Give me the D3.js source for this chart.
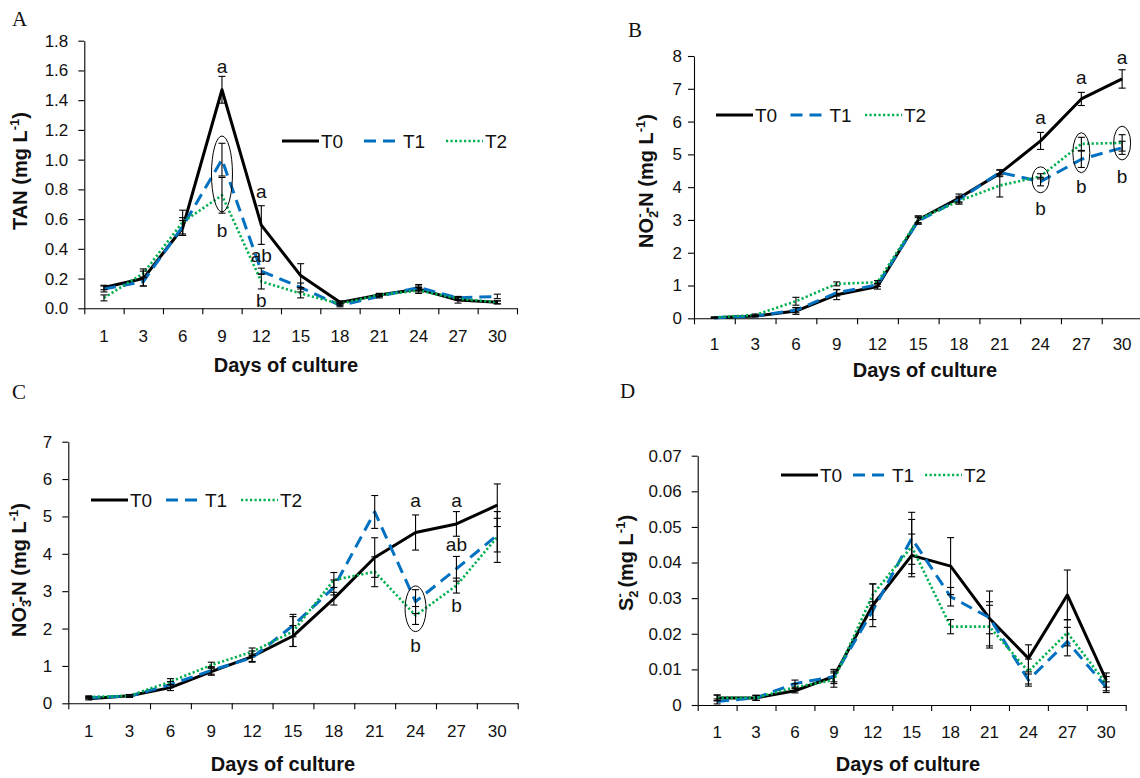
<!DOCTYPE html>
<html>
<head>
<meta charset="utf-8">
<script src="https://cdn.jsdelivr.net/npm/d3@7"></script>
<style>
  body { margin: 0; background: #fff; }
  svg text { font-family: "Liberation Sans", Arial, sans-serif; fill: #111; }
</style>
</head>
<body>
<svg id="fig" width="1140" height="778"></svg>
<script>
// shared x categories
const days = ["1", "3", "6", "9", "12", "15", "18", "21", "24", "27", "30"];
const treatments = ["T0", "T1", "T2"];

// A - TAN
const tanTicks = [0, 0.2, 0.4, 0.6, 0.8, 1.0, 1.2, 1.4, 1.6, 1.8];
const tanT0 = [0.14, 0.20, 0.54, 1.47, 0.56, 0.22, 0.04, 0.09, 0.13, 0.055, 0.04];
const tanT1 = [0.13, 0.18, 0.55, 1.00, 0.25, 0.14, 0.02, 0.08, 0.14, 0.07, 0.08];
const tanT2 = [0.07, 0.235, 0.58, 0.76, 0.18, 0.10, 0.03, 0.09, 0.12, 0.065, 0.04];
const tanErrT0 = [0.015, 0.05, 0.05, 0.09, 0.13, 0.08, 0.01, 0.01, 0.02, 0.02, 0.01];
const tanErrT1 = [0.02, 0.03, 0.06, 0.11, 0.02, 0.03, 0.01, 0.01, 0.02, 0.01, 0.015];
const tanErrT2 = [0.02, 0.03, 0.08, 0.12, 0.05, 0.03, 0.01, 0.01, 0.02, 0.01, 0.01];
const tanLetters = [["9", 1.58, "a"], ["9", 0.48, "b"], ["12", 0.745, "a"], ["12", 0.314, "ab"], ["12", 0.007, "b"]];
const tanCircles = [["9", 0.648, 1.159]];

// B - NO2-N
const nitriteTicks = [0, 1, 2, 3, 4, 5, 6, 7, 8];
const nitriteT0 = [0.02, 0.07, 0.22, 0.72, 0.97, 3.00, 3.67, 4.42, 5.41, 6.69, 7.30];
const nitriteT1 = [0.02, 0.07, 0.25, 0.78, 1.02, 2.97, 3.62, 4.45, 4.17, 4.85, 5.20];
const nitriteT2 = [0.03, 0.10, 0.52, 1.05, 1.10, 3.02, 3.58, 4.05, 4.33, 5.32, 5.35];
const nitriteErrT0 = [0.01, 0.02, 0.10, 0.15, 0.08, 0.12, 0.12, 0.10, 0.26, 0.20, 0.28];
const nitriteErrT1 = [0.01, 0.02, 0.08, 0.10, 0.05, 0.10, 0.10, 0.08, 0.13, 0.25, 0.20];
const nitriteErrT2 = [0.01, 0.03, 0.12, 0.06, 0.05, 0.10, 0.10, 0.35, 0.08, 0.20, 0.25];
const nitriteLetters = [["24", 5.92, "a"], ["27", 7.16, "a"], ["30", 7.77, "a"], ["24", 3.15, "b"], ["27", 3.83, "b"], ["30", 4.14, "b"]];
const nitriteCircles = [["24", 3.83, 4.62], ["27", 4.44, 5.66], ["30", 4.83, 5.86]];

// C - NO3-N
const nitrateTicks = [0, 1, 2, 3, 4, 5, 6, 7];
const nitrateT0 = [0.12, 0.20, 0.42, 0.85, 1.25, 1.80, 2.80, 3.90, 4.57, 4.80, 5.30];
const nitrateT1 = [0.15, 0.19, 0.50, 0.88, 1.22, 2.08, 3.10, 5.12, 2.72, 3.60, 4.50];
const nitrateT2 = [0.17, 0.20, 0.58, 1.02, 1.38, 1.92, 3.30, 3.52, 2.35, 3.15, 4.45];
const nitrateErrT0 = [0.03, 0.03, 0.08, 0.10, 0.15, 0.28, 0.17, 0.53, 0.47, 0.33, 0.57];
const nitrateErrT1 = [0.03, 0.03, 0.08, 0.10, 0.10, 0.30, 0.20, 0.44, 0.32, 0.33, 0.45];
const nitrateErrT2 = [0.03, 0.03, 0.08, 0.08, 0.10, 0.40, 0.20, 0.40, 0.24, 0.20, 0.68];
const nitrateLetters = [["24", 5.245, "a"], ["27", 5.245, "a"], ["27", 4.08, "ab"], ["27", 2.45, "b"], ["24", 1.38, "b"]];
const nitrateCircles = [["24", 1.92, 3.14]];

// D - S2-
const sulfideTicks = [0, 0.01, 0.02, 0.03, 0.04, 0.05, 0.06, 0.07];
const sulfideT0 = [0.002, 0.002, 0.004, 0.008, 0.028, 0.042, 0.039, 0.0243, 0.0131, 0.0309, 0.007];
const sulfideT1 = [0.001, 0.002, 0.006, 0.008, 0.0265, 0.0468, 0.0304, 0.0245, 0.007, 0.0178, 0.005];
const sulfideT2 = [0.002, 0.002, 0.005, 0.007, 0.031, 0.0445, 0.022, 0.022, 0.0094, 0.0203, 0.006];
const sulfideErrT0 = [0.0008, 0.0007, 0.0006, 0.0015, 0.006, 0.006, 0.008, 0.0077, 0.0038, 0.007, 0.002];
const sulfideErrT1 = [0.0007, 0.0007, 0.001, 0.002, 0.0025, 0.0073, 0.0026, 0.0045, 0.0017, 0.004, 0.0015];
const sulfideErrT2 = [0.0008, 0.0007, 0.001, 0.002, 0.003, 0.0076, 0.002, 0.006, 0.0035, 0.0037, 0.002];

// line looks per treatment
const looks = {
  T0: { stroke: "#000", width: 3, dash: null },
  T1: { stroke: "#0070C0", width: 3, dash: "12,7" },
  T2: { stroke: "#00B050", width: 2.6, dash: "2.2,2.3" }
};

const svg = d3.select("#fig");

const panels = [
  { tag: "A", tagX: 12, tagY: 26, left: 84.3, right: 517, top: 40.7, bottom: 308.3,
    ticks: tanTicks, fmt: d3.format(".1f"), yPad: 10, xPad: 22,
    vals: [tanT0, tanT1, tanT2], errs: [tanErrT0, tanErrT1, tanErrT2],
    letters: tanLetters, circles: tanCircles, rx: 10.5,
    yLabel: [["TAN (mg L", ""], ["-1", "sup"], [")", ""]], yLabelX: 27, yLabelY: 171,
    titleX: 286, titleY: 372, legX: 282, legY: 141, legStep: 82 },
  { tag: "B", tagX: 628, tagY: 37, left: 694, right: 1142.5, top: 56, bottom: 318.3,
    ticks: nitriteTicks, fmt: d3.format("d"), yPad: 6, xPad: 20,
    vals: [nitriteT0, nitriteT1, nitriteT2], errs: [nitriteErrT0, nitriteErrT1, nitriteErrT2],
    letters: nitriteLetters, circles: nitriteCircles, rx: 8.5,
    yLabel: [["NO", ""], ["2", "sub"], ["-", "over"], ["-N (mg L", ""], ["-1", "sup"], [")", ""]], yLabelX: 653, yLabelY: 181,
    titleX: 925, titleY: 377, legX: 716, legY: 115, legStep: 74.5 },
  { tag: "C", tagX: 12, tagY: 399, left: 68.3, right: 517.7, top: 441.7, bottom: 703.3,
    ticks: nitrateTicks, fmt: d3.format("d"), yPad: 10, xPad: 22,
    vals: [nitrateT0, nitrateT1, nitrateT2], errs: [nitrateErrT0, nitrateErrT1, nitrateErrT2],
    letters: nitrateLetters, circles: nitrateCircles, rx: 10.5,
    yLabel: [["NO", ""], ["3", "sub"], ["-", "over"], ["-N (mg L", ""], ["-1", "sup"], [")", ""]], yLabelX: 26, yLabelY: 570,
    titleX: 283, titleY: 771, legX: 91, legY: 500, legStep: 75 },
  { tag: "D", tagX: 620, tagY: 398, left: 697.7, right: 1125.7, top: 455.7, bottom: 705,
    ticks: sulfideTicks, fmt: d => d === 0 ? "0" : d3.format(".2f")(d), yPad: 10, xPad: 21,
    vals: [sulfideT0, sulfideT1, sulfideT2], errs: [sulfideErrT0, sulfideErrT1, sulfideErrT2],
    letters: [], circles: [], rx: 10,
    yLabel: [["S", ""], ["2", "sub"], ["-", "over"], [" (mg L", ""], ["-1", "sup"], [")", ""]], yLabelX: 633, yLabelY: 563,
    titleX: 908, titleY: 771, legX: 781, legY: 475, legStep: 72 }
];

function richText(sel, parts) {
  let shift = 0;
  parts.forEach(([s, kind]) => {
    const t = sel.append("tspan").text(s);
    let target = 0;
    if (kind === "sub") target = 5;
    if (kind === "sup") target = -8;
    if (kind === "over") { target = -9; t.attr("dx", -7); }
    t.attr("dy", target - shift);
    if (kind) t.attr("font-size", 13);
    shift = target;
  });
}

panels.forEach(p => {
  const g = svg.append("g");
  const x = d3.scaleBand().domain(days).range([p.left, p.right]);
  const edge = d3.scaleLinear().domain([0, days.length]).range([p.left, p.right]);
  const y = d3.scaleLinear().domain([0, p.ticks[p.ticks.length - 1]]).range([p.bottom, p.top]);
  const cx = d => x(d) + x.bandwidth() / 2;

  // y axis
  g.append("g")
    .attr("transform", `translate(${p.left},0)`)
    .call(d3.axisLeft(y).tickValues(p.ticks).tickFormat(p.fmt).tickSize(6).tickSizeOuter(0).tickPadding(p.yPad))
    .attr("font-size", 17).attr("font-family", null);

  // x axis: tick marks between categories
  g.append("g")
    .attr("transform", `translate(0,${p.bottom})`)
    .call(d3.axisBottom(edge).tickValues(d3.range(days.length + 1)).tickFormat("").tickSize(6).tickSizeOuter(0));

  // x labels
  g.append("g")
    .attr("transform", `translate(0,${p.bottom})`)
    .call(d3.axisBottom(x).tickSize(0).tickPadding(p.xPad))
    .attr("font-size", 17).attr("font-family", null)
    .call(a => a.select(".domain").remove());

  g.selectAll(".domain, .tick line").attr("stroke", "#000").attr("stroke-width", 1.1);

  // series lines
  treatments.forEach((t, i) => {
    const lk = looks[t];
    g.append("path")
      .datum(p.vals[i])
      .attr("fill", "none")
      .attr("stroke", lk.stroke)
      .attr("stroke-width", lk.width)
      .attr("stroke-dasharray", lk.dash)
      .attr("stroke-linejoin", "round")
      .attr("d", d3.line().x((v, j) => cx(days[j])).y(v => y(v)));
  });

  // error bars
  treatments.forEach((t, i) => {
    const eb = g.append("g").attr("stroke", "#000").attr("stroke-width", 1.1);
    p.vals[i].forEach((v, j) => {
      const e = p.errs[i][j];
      const xx = cx(days[j]);
      eb.append("line").attr("x1", xx).attr("x2", xx).attr("y1", y(v - e)).attr("y2", y(v + e));
      [v - e, v + e].forEach(w => {
        eb.append("line").attr("x1", xx - 3.5).attr("x2", xx + 3.5).attr("y1", y(w)).attr("y2", y(w));
      });
    });
  });

  // circled groups
  p.circles.forEach(([d, lo, hi]) => {
    g.append("ellipse")
      .attr("cx", cx(d)).attr("cy", (y(lo) + y(hi)) / 2)
      .attr("rx", p.rx).attr("ry", (y(lo) - y(hi)) / 2)
      .attr("fill", "none").attr("stroke", "#000").attr("stroke-width", 1);
  });

  // significance letters
  p.letters.forEach(([d, v, s]) => {
    g.append("text").attr("x", cx(d)).attr("y", y(v))
      .attr("text-anchor", "middle").attr("font-size", 19).text(s);
  });

  // legend
  treatments.forEach((t, i) => {
    const lk = looks[t];
    const x0 = p.legX + i * p.legStep;
    g.append("line")
      .attr("x1", x0).attr("x2", x0 + 37).attr("y1", p.legY).attr("y2", p.legY)
      .attr("stroke", lk.stroke).attr("stroke-width", lk.width).attr("stroke-dasharray", lk.dash);
    g.append("text").attr("x", x0 + 39).attr("y", p.legY + 7)
      .attr("font-size", 19).text(t);
  });

  // axis titles
  g.append("text").attr("x", p.titleX).attr("y", p.titleY)
    .attr("text-anchor", "middle").attr("font-size", 20).attr("font-weight", "bold")
    .text("Days of culture");

  const yl = g.append("text")
    .attr("transform", `translate(${p.yLabelX},${p.yLabelY}) rotate(-90)`)
    .attr("text-anchor", "middle").attr("font-size", 20).attr("font-weight", "bold");
  richText(yl, p.yLabel);

  // panel letter
  g.append("text").attr("x", p.tagX).attr("y", p.tagY)
    .style("font-family", "'Liberation Serif', 'Times New Roman', serif")
    .attr("font-size", 21).text(p.tag);
});
</script>
</body>
</html>
